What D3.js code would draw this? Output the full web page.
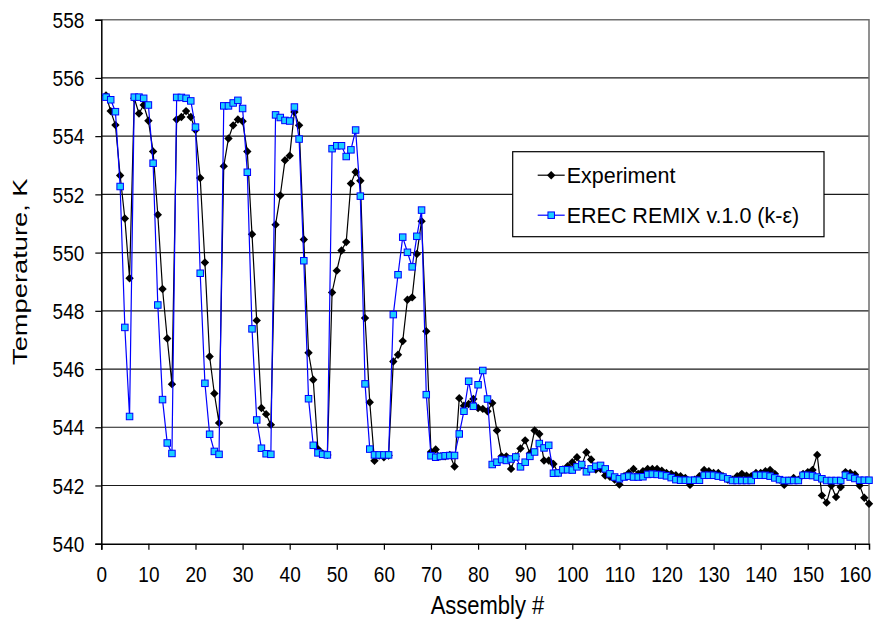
<!DOCTYPE html>
<html>
<head>
<meta charset="utf-8">
<script src="https://cdn.jsdelivr.net/npm/d3@7"></script>
<style>
  body { margin: 0; background: #fff; }
  text { font-family: "Liberation Sans", Arial, sans-serif; fill: #000; }
</style>
</head>
<body>
<svg id="chart" width="874" height="624"></svg>
<script>
// Measured outlet temperatures per assembly vs. EREC REMIX prediction

const seriesNames = ["Experiment", "EREC REMIX v.1.0 (k-\u03b5)"];

const experiment = [
  555.40, 554.86, 554.38, 552.65, 551.17, 549.12, 555.30, 554.78, 555.07, 554.53,
  553.47, 551.30, 548.75, 547.05, 545.48, 554.57, 554.66, 554.86, 554.66, 554.21,
  552.56, 549.66, 546.43, 545.16, 544.15, 552.97, 553.92, 554.37, 554.57, 554.51,
  553.47, 550.63, 547.67, 544.66, 544.45, 544.09, 550.96, 551.96, 553.17, 553.33,
  554.83, 554.37, 550.45, 546.56, 545.63, 543.25, 543.10, 543.05, 548.63, 549.38,
  550.07, 550.36, 552.37, 552.77, 552.47, 547.75, 544.86, 542.85, 543.03, 542.97,
  543.03, 546.26, 546.49, 546.96, 548.38, 548.46, 549.95, 551.08, 547.30, 543.15,
  543.24, 543.00, 543.00, 543.05, 542.65, 545.00, 544.74, 544.80, 544.97, 544.66,
  544.63, 544.55, 544.83, 543.89, 543.00, 543.00, 542.57, 543.00, 543.27, 543.55,
  543.10, 543.89, 543.77, 542.86, 542.86, 542.74, 542.43, 542.55, 542.66, 542.80,
  542.97, 542.69, 543.14, 542.89, 542.55, 542.57, 542.34, 542.30, 542.20, 542.03,
  542.32, 542.43, 542.57, 542.40, 542.49, 542.57, 542.57, 542.57, 542.51, 542.43,
  542.40, 542.35, 542.32, 542.26, 542.02, 542.20, 542.32, 542.53, 542.49, 542.43,
  542.43, 542.32, 542.20, 542.20, 542.32, 542.40, 542.34, 542.32, 542.43, 542.43,
  542.49, 542.53, 542.40, 542.20, 542.02, 542.17, 542.26, 542.20, 542.40, 542.46,
  542.53, 543.05, 541.66, 541.41, 542.00, 541.60, 541.95, 542.46, 542.43, 542.38,
  542.00, 541.58, 541.37
];

const erecRemix = [
  555.34, 555.25, 554.84, 552.27, 547.43, 544.37, 555.34, 555.34, 555.30, 555.07,
  553.07, 548.20, 544.95, 543.46, 543.10, 555.33, 555.33, 555.30, 555.21, 554.31,
  549.29, 545.51, 543.76, 543.17, 543.07, 555.04, 555.04, 555.14, 555.23, 554.95,
  552.76, 547.38, 544.25, 543.28, 543.09, 543.07, 554.73, 554.64, 554.54, 554.52,
  555.00, 553.90, 549.72, 544.98, 543.38, 543.12, 543.07, 543.05, 553.57, 553.67,
  553.67, 553.30, 553.53, 554.21, 551.94, 545.49, 543.25, 543.05, 543.05, 543.05,
  543.05, 547.87, 549.24, 550.53, 550.01, 549.51, 550.56, 551.46, 545.12, 543.02,
  542.97, 543.00, 543.02, 543.03, 543.03, 543.77, 544.55, 545.58, 544.72, 545.46,
  545.95, 544.97, 542.72, 542.80, 542.89, 542.86, 542.91, 542.98, 542.64, 542.80,
  543.00, 543.15, 543.44, 543.29, 543.38, 542.42, 542.43, 542.54, 542.54, 542.53,
  542.64, 542.72, 542.47, 542.57, 542.66, 542.69, 542.57, 542.40, 542.29, 542.23,
  542.29, 542.32, 542.29, 542.29, 542.30, 542.38, 542.39, 542.38, 542.36, 542.33,
  542.27, 542.20, 542.18, 542.18, 542.18, 542.18, 542.18, 542.35, 542.35, 542.35,
  542.32, 542.29, 542.23, 542.17, 542.17, 542.17, 542.17, 542.17, 542.35, 542.35,
  542.35, 542.32, 542.26, 542.20, 542.17, 542.17, 542.17, 542.17, 542.35, 542.35,
  542.34, 542.29, 542.23, 542.17, 542.17, 542.17, 542.17, 542.35, 542.29, 542.24,
  542.18, 542.18, 542.18
];

const xTicks = [0, 10, 20, 30, 40, 50, 60, 70, 80, 90, 100, 110, 120, 130, 140, 150, 160];
const yTicks = [540, 542, 544, 546, 548, 550, 552, 554, 556, 558];

const width = 874, height = 624;
const margin = { top: 19.7, right: 5, bottom: 80.3, left: 101.3 };
const plotW = width - margin.left - margin.right;
const plotH = height - margin.top - margin.bottom;
const stretch = 1.15; // the original picture was stretched a bit vertically

const svg = d3.select("#chart");
const g = svg.append("g").attr("transform", `translate(${margin.left},${margin.top})`);

const x = d3.scaleLinear().domain([0, 163]).range([0, plotW]);
const y = d3.scaleLinear().domain([540, 558]).range([plotH, 0]);

// gridlines
g.append("g")
  .selectAll("line")
  .data(yTicks.slice(1, -1))
  .join("line")
  .attr("x1", 0).attr("x2", plotW)
  .attr("y1", d => y(d)).attr("y2", d => y(d))
  .attr("stroke", "#1a1a1a")
  .attr("stroke-width", 1.2);

// plot frame (top/right gray)
g.append("path")
  .attr("d", `M0,0H${plotW}V${plotH}`)
  .attr("fill", "none")
  .attr("stroke", "#6e6e6e")
  .attr("stroke-width", 1.5);

// axes
const xAxis = g.append("g")
  .attr("transform", `translate(0,${plotH})`)
  .call(d3.axisBottom(x).tickValues(xTicks).tickSize(6));
const yAxis = g.append("g")
  .call(d3.axisLeft(y).tickValues(yTicks).tickSize(6));

[xAxis, yAxis].forEach(a => {
  a.select(".domain").attr("stroke", "#000").attr("stroke-width", 1.5);
  a.selectAll(".tick line").attr("stroke", "#000").attr("stroke-width", 1.2);
  a.selectAll(".tick text")
    .attr("font-family", "Liberation Sans, Arial, sans-serif")
    .attr("font-size", 19)
    .attr("fill", "#000");
});
xAxis.selectAll(".tick text")
  .attr("y", 0).attr("dy", null)
  .attr("transform", `translate(0,38) scale(1,${stretch})`);
yAxis.selectAll(".tick text")
  .attr("x", 0).attr("dy", "0.35em")
  .attr("transform", `translate(-17,0) scale(1,${stretch})`);

// axis titles
svg.append("text")
  .attr("transform", `translate(${margin.left + x(82)},614) scale(1,${stretch})`)
  .attr("text-anchor", "middle")
  .attr("font-size", 22)
  .text("Assembly #");

svg.append("text")
  .attr("transform", `translate(27,${margin.top + plotH / 2 - 10}) scale(1,1.3) rotate(-90)`)
  .attr("text-anchor", "middle")
  .attr("font-size", 21)
  .text("Temperature, K");

const line = d3.line().x((d, i) => x(i + 1)).y(d => y(d));
const diamond = "M0,-4.2L4.2,0L0,4.2L-4.2,0Z";

// Experiment series
g.append("path")
  .datum(experiment)
  .attr("d", line)
  .attr("fill", "none")
  .attr("stroke", "#000")
  .attr("stroke-width", 1.2);
g.append("g")
  .selectAll("path")
  .data(experiment)
  .join("path")
  .attr("d", diamond)
  .attr("transform", (d, i) => `translate(${x(i + 1)},${y(d)})`)
  .attr("fill", "#000");

// EREC REMIX series
g.append("path")
  .datum(erecRemix)
  .attr("d", line)
  .attr("fill", "none")
  .attr("stroke", "#0000ff")
  .attr("stroke-width", 1.2);
g.append("g")
  .selectAll("rect")
  .data(erecRemix)
  .join("rect")
  .attr("x", (d, i) => x(i + 1) - 3.25)
  .attr("y", d => y(d) - 3.25)
  .attr("width", 6.5)
  .attr("height", 6.5)
  .attr("fill", "#1ccfff")
  .attr("stroke", "#0000ff")
  .attr("stroke-width", 1);

// legend
const legend = svg.append("g").attr("transform", "translate(512.7,151.7)");
legend.append("rect")
  .attr("width", 311.3)
  .attr("height", 85)
  .attr("fill", "#fff")
  .attr("stroke", "#000")
  .attr("stroke-width", 1.2);

const rows = [23.5, 63.5];
seriesNames.forEach((name, i) => {
  const row = legend.append("g").attr("transform", `translate(0,${rows[i]})`);
  row.append("line")
    .attr("x1", 25).attr("x2", 52)
    .attr("stroke", i === 0 ? "#000" : "#0000ff")
    .attr("stroke-width", 1.2);
  if (i === 0) {
    row.append("path").attr("d", diamond).attr("transform", "translate(38.5,0)").attr("fill", "#000");
  } else {
    row.append("rect")
      .attr("x", 35.25).attr("y", -3.25).attr("width", 6.5).attr("height", 6.5)
      .attr("fill", "#1ccfff").attr("stroke", "#0000ff");
  }
  row.append("text")
    .attr("transform", `translate(54,7.5) scale(1,1.05)`)
    .attr("font-size", 21.5)
    .text(name);
});
</script>
</body>
</html>
